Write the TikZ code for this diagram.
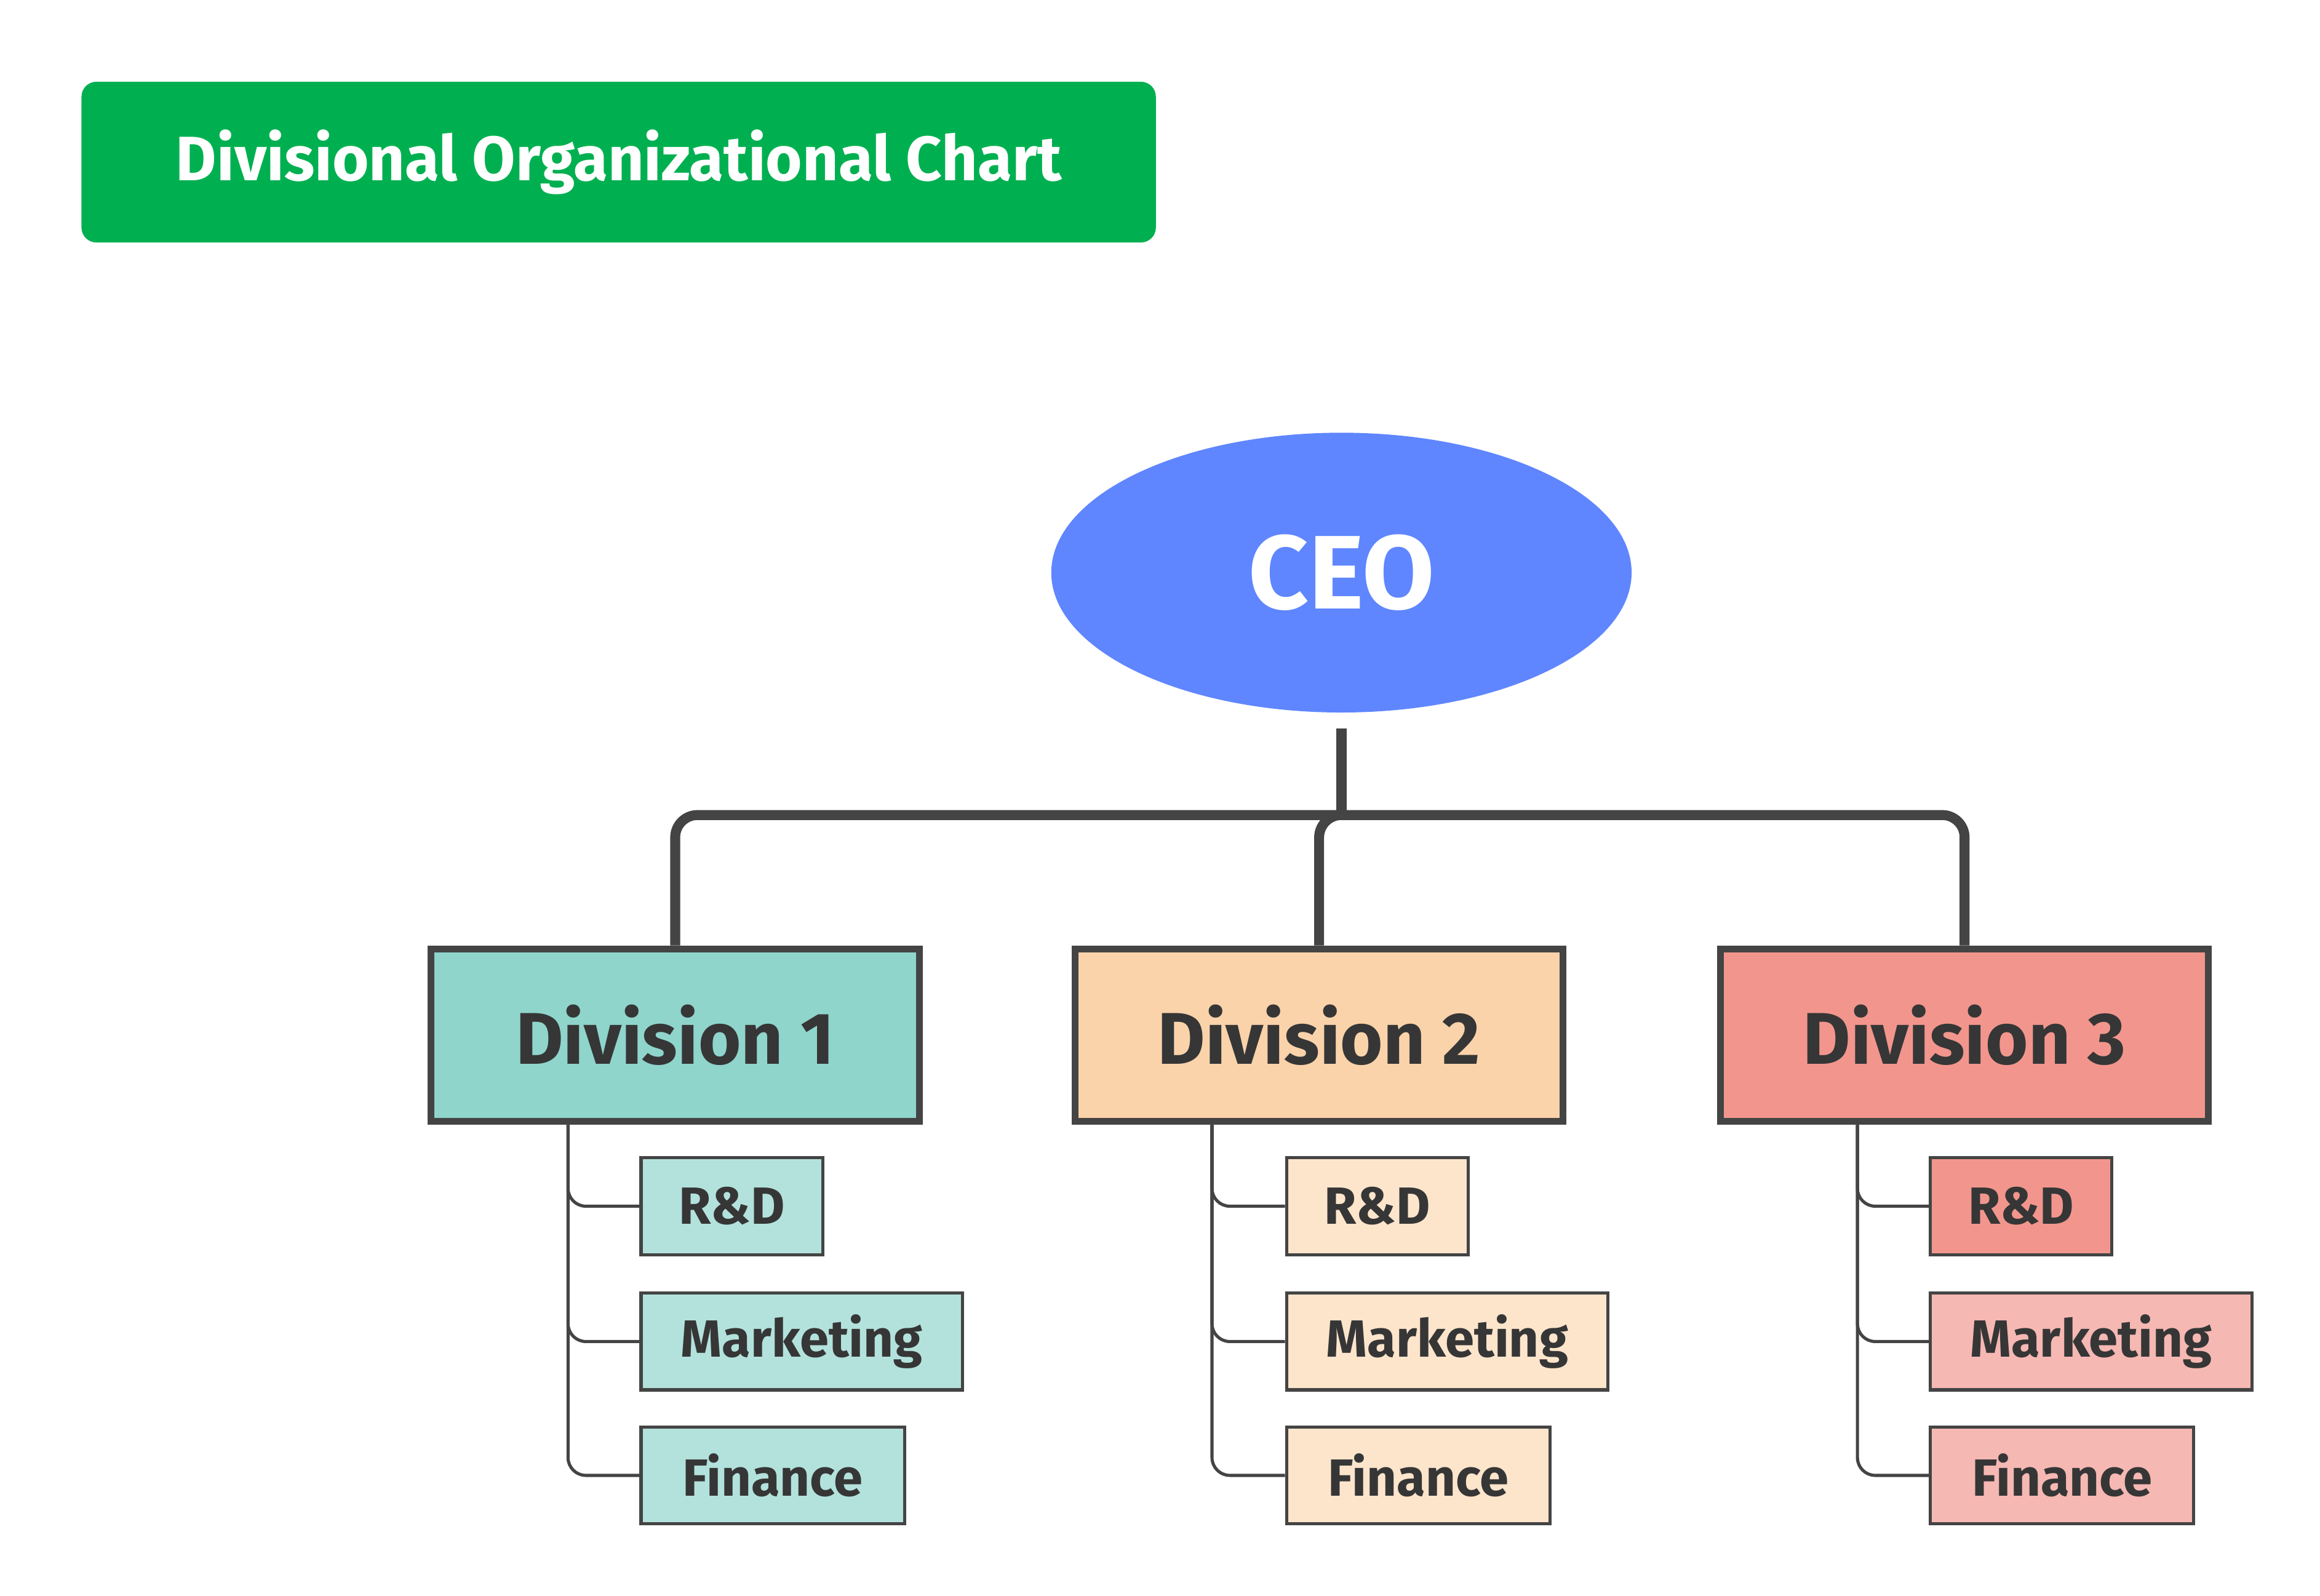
\documentclass[tikz,border=0pt]{standalone}
\usepackage{fontspec}
\setmainfont{Fira Sans}
\usetikzlibrary{positioning,shapes.geometric}
\definecolor{titlegreen}{HTML}{00B050}
\definecolor{ceoblue}{HTML}{5F86FF}
\definecolor{edgegray}{HTML}{444444}
\definecolor{tealA}{HTML}{8FD5CC}
\definecolor{tealB}{HTML}{B3E2DC}
\definecolor{peachA}{HTML}{FAD3AA}
\definecolor{peachB}{HTML}{FDE5CC}
\definecolor{redA}{HTML}{F2968D}
\definecolor{redB}{HTML}{F6B8B3}
\begin{document}
\begin{tikzpicture}[x=0.01cm,y=-0.01cm,
  title node/.style={fill=titlegreen,rounded corners=0.1cm,text=white,inner sep=0pt,font=\bfseries\fontsize{12}{14}\selectfont,minimum width=7.22cm,minimum height=1.08cm},
  ceo node/.style={ellipse,fill=ceoblue,text=white,inner sep=0pt,font=\bfseries\fontsize{20}{24}\selectfont,minimum width=3.9cm,minimum height=1.88cm},
  div node/.style={draw=edgegray,line width=1.3pt,inner sep=0pt,text=edgegray!80!black,font=\bfseries\fontsize{14}{17}\selectfont,minimum width=3.28cm,minimum height=1.16cm},
  sub node/.style={draw=edgegray,line width=0.6pt,inner sep=0pt,anchor=west,text=edgegray!80!black,font=\bfseries\fontsize{10}{12}\selectfont,minimum height=0.65cm},
  trunk/.style={draw=edgegray,line width=1.9pt,rounded corners=0.15cm},
  branch/.style={draw=edgegray,line width=0.6pt,rounded corners=0.12cm}]
\useasboundingbox (0,0) rectangle (1560,1073);

 \node[title node] (title) at (416,109) {Divisional Organizational Chart};
 \node[ceo node] (ceo) at (902,385) {CEO};
 \node[div node,fill=tealA] (d1) at (454,696) {Division 1};
 \node[div node,fill=peachA] (d2) at (887,696) {Division 2};
 \node[div node,fill=redA] (d3) at (1321,696) {Division 3};

 \foreach \d/\x/\ca/\cb in {1/430/tealB/tealB,2/864/peachB/peachB,3/1297/redA/redB}{
   \node[sub node,fill=\ca,minimum width=1.22cm] (d\d rd) at (\x,811) {R\&D};
   \node[sub node,fill=\cb,minimum width=2.16cm] (d\d mk) at (\x,902) {Marketing};
   \node[sub node,fill=\cb,minimum width=1.77cm] (d\d fi) at (\x,992) {Finance};
   \coordinate (d\d top) at ([xshift=-0.72cm]d\d.south);
   \path[branch] (d\d top) |- (d\d rd.west);
   \path[branch] (d\d top) |- (d\d mk.west);
   \path[branch] (d\d top) |- (d\d fi.west);
 }

 \coordinate (hub) at (902,548);
 \path[trunk] ([yshift=-0.1cm]ceo.south) -- (hub);
 \path[trunk] (hub) -| (d1.north);
 \path[trunk] (hub) -| (d3.north);
 \path[trunk] (hub) -| (d2.north);
\end{tikzpicture}
\end{document}
